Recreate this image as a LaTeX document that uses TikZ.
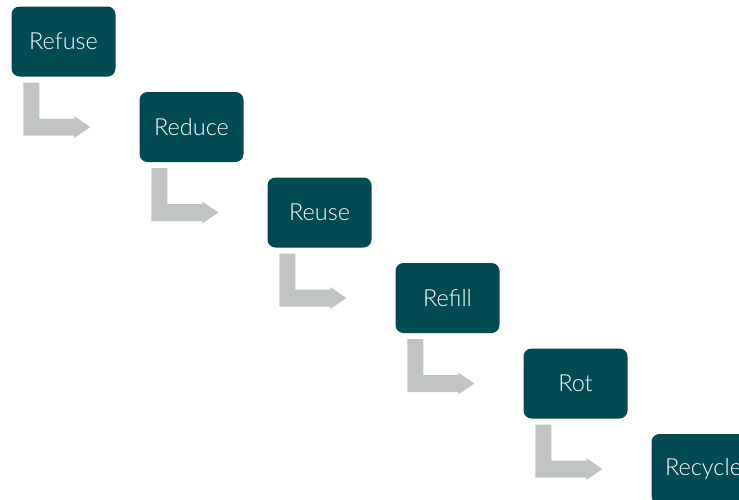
\documentclass[tikz,border=0pt]{standalone}
\usepackage{fontspec}
\setmainfont{Lato Light}
\usetikzlibrary{calc}
\definecolor{teal}{HTML}{004A52}
\definecolor{arrgray}{HTML}{BFC4C3}
\begin{document}
\begin{tikzpicture}[x=1pt,y=1pt,
  stepbox/.style={fill=teal,text=white,rounded corners=8pt,minimum width=104pt,minimum height=70pt,inner sep=0pt,font=\fontsize{23.5}{27}\selectfont},
  bent/.style={fill=arrgray}]
\useasboundingbox (0,0) rectangle (739,-499);
\node[stepbox] (b1) at (63.5,-41.5) {Refuse};
\node[stepbox] (b2) at (191.5,-127) {Reduce};
\node[stepbox] (b3) at (319.5,-212.5) {Reuse};
\node[stepbox] (b4) at (447.5,-298) {Refill};
\node[stepbox] (b5) at (575.5,-383.5) {Rot};
\node[stepbox] (b6) at (703.5,-469) {Recycle};
\foreach \a/\b in {b1/b2,b2/b3,b3/b4,b4/b5,b5/b6}{
  \fill[bent] ($(\a.south west)+(12,-6)$) coordinate (p)
    -- ($(\a.south west)+(28,-6)$)
    |- ($(\b.west)+(-65,8.5)$)
    -- ($(\b.west)+(-65,11)$)
    -- ($(\b.west)+(-49,0)$)
    -- ($(\b.west)+(-65,-11)$)
    -- ($(\b.west)+(-65,-8.5)$)
    -| (p) -- cycle;
}
\end{tikzpicture}
\end{document}
